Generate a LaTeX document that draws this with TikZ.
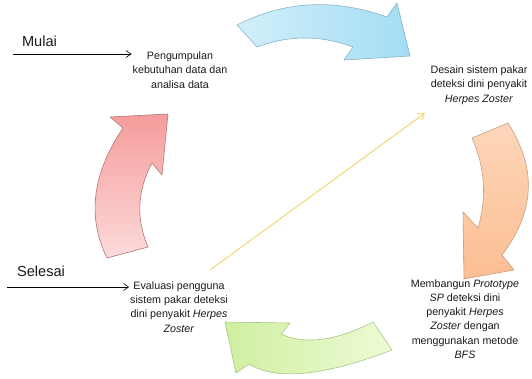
\documentclass[tikz,border=0pt]{standalone}
\usepackage{fontspec}
\setmainfont{Liberation Sans}
\usetikzlibrary{arrows.meta}

\definecolor{blueLight}{HTML}{D2EFFA}
\definecolor{blueDark}{HTML}{A3DDF4}
\definecolor{blueEdge}{HTML}{86B4C8}
\definecolor{orangeLight}{HTML}{FDD6BA}
\definecolor{orangeDark}{HTML}{FBBE92}
\definecolor{orangeEdge}{HTML}{C8A080}
\definecolor{greenLight}{HTML}{EEFAD6}
\definecolor{greenDark}{HTML}{D0EFA0}
\definecolor{greenEdge}{HTML}{A8C488}
\definecolor{redLight}{HTML}{FCDADA}
\definecolor{redDark}{HTML}{F69C9C}
\definecolor{redEdge}{HTML}{B07878}
\definecolor{guide}{HTML}{EFD775}
\definecolor{textgray}{HTML}{1A1A1A}

\tikzset{
  cyclearrow/.style={line width=0.6pt, line join=round},
  steptext/.style={font=\fontsize{10.7}{14.3}\selectfont, align=center, inner sep=1pt, text=textgray},
  bigtext/.style={font=\fontsize{14.6}{17}\selectfont, inner sep=0pt, text=textgray},
  flowarrow/.style={line width=0.6pt, -{Straight Barb[length=5pt,width=7pt]}},
  guidearrow/.style={draw=guide, line width=1pt, -{Straight Barb[length=6pt,width=8pt]}}
}

\begin{document}
\begin{tikzpicture}[x=1pt,y=-1pt]
\useasboundingbox (0,0) rectangle (532,378);

% blue curved arrow (top)
\path[cyclearrow, draw=blueEdge, left color=blueLight, right color=blueDark]
  (237,25) .. controls (284,1) and (334,-2) .. (387,17)
  -- (397,3) -- (410,56) -- (344,60) -- (353,47)
  .. controls (321,35) and (289,35) .. (257,47) -- cycle;

% orange curved arrow (right)
\path[cyclearrow, draw=orangeEdge, top color=orangeLight, bottom color=orangeDark]
  (508,123) .. controls (537,168) and (535,212) .. (502,255)
  -- (514,270) -- (464,279) -- (463,212) -- (478,228)
  .. controls (487,197) and (485,167) .. (472,138) -- cycle;

% green curved arrow (bottom)
\path[cyclearrow, draw=greenEdge, left color=greenDark, right color=greenLight]
  (392,350) .. controls (324,376) and (276,381) .. (249,364)
  -- (236,373) -- (225,322) -- (290,323) -- (281,334)
  .. controls (305,345) and (336,341) .. (373,322) -- cycle;

% red curved arrow (left)
\path[cyclearrow, draw=redEdge, top color=redDark, bottom color=redLight]
  (148,247) .. controls (136,219) and (137,191) .. (152,163)
  -- (162,175) -- (168,114) -- (110,117) -- (123,128)
  .. controls (92,174) and (87,217) .. (107,258) -- cycle;

% step texts
\node[steptext] (collect) at (180,70)
  {Pengumpulan\\kebutuhan data dan\\analisa data};
\node[steptext] (design) at (479,85)
  {Desain sistem pakar\\deteksi dini penyakit\\\textit{Herpes Zoster}};
\node[steptext] (build) at (465,319)
  {Membangun \textit{Prototype}\\\textit{SP} deteksi dini\\penyakit \textit{Herpes}\\\textit{Zoster} dengan\\menggunakan metode\\\textit{BFS}};
\node[steptext] (evaluate) at (179,307)
  {Evaluasi pengguna\\sistem pakar deteksi\\dini penyakit \textit{Herpes}\\\textit{Zoster}};

% start and end labels
\node[bigtext] (start) at (39.5,41) {Mulai};
\node[bigtext] (finish) at (41,271) {Selesai};

\coordinate (startline) at (13,54);
\coordinate (finishline) at (7,287);
\draw[flowarrow] (startline) -- (startline -| collect.west);
\draw[flowarrow] (finishline) -- (finishline -| evaluate.west);

% diagonal guide arrow
\coordinate (guidefrom) at (210,270);
\coordinate (guideto) at (425,113);
\draw[guidearrow] (guidefrom) -- (guideto);
\end{tikzpicture}
\end{document}
